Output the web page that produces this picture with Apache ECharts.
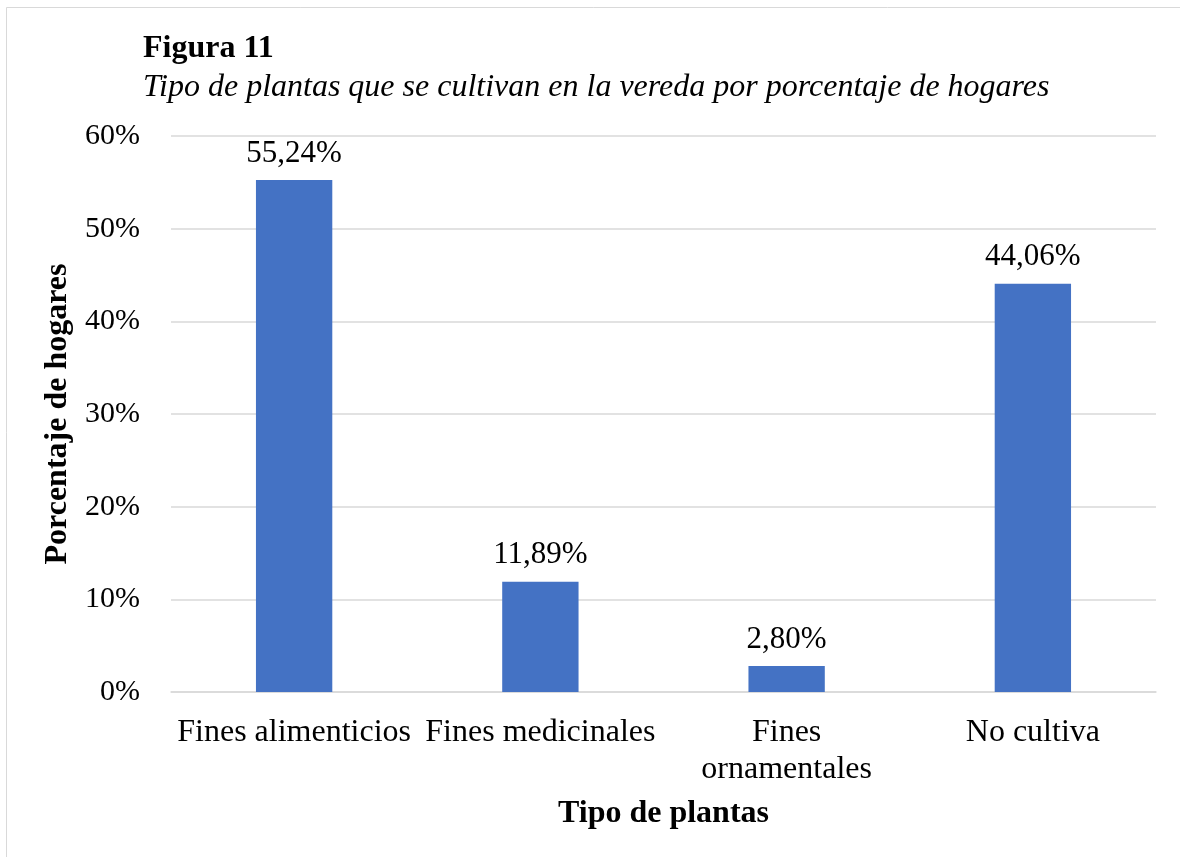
<!DOCTYPE html>
<html>
<head>
<meta charset="utf-8">
<script src="https://cdn.jsdelivr.net/npm/echarts@6/dist/echarts.min.js"></script>
<style>
  html, body { margin: 0; padding: 0; background: #fff; }
  #chart { width: 1180px; height: 857px; }
</style>
</head>
<body>
<div id="chart"></div>
<script>
// datos del gráfico
var categories = ['Fines alimenticios', 'Fines medicinales', 'Fines\nornamentales', 'No cultiva']
var values = [55.24, 11.89, 2.80, 44.06]
var valueLabels = ['55,24%', '11,89%', '2,80%', '44,06%']

var serif = '"Liberation Serif", "DejaVu Serif", serif'
var myChart = echarts.init(document.getElementById('chart'))

var option = {
  backgroundColor: '#fff',
  animation: false,
  graphic: [{
    type: 'rect',
    shape: { x: 6.5, y: 7.5, width: 1180, height: 860 },
    style: { fill: 'none', stroke: '#d9d9d9', lineWidth: 1 },
    silent: true
  }],
  title: {
    text: 'Figura 11',
    subtext: 'Tipo de plantas que se cultivan en la vereda por porcentaje de hogares',
    left: 138,
    top: 28,
    itemGap: 7,
    textStyle: { fontFamily: serif, fontWeight: 'bold', fontSize: 32, color: '#000' },
    subtextStyle: { fontFamily: serif, fontStyle: 'italic', fontSize: 32, color: '#000' }
  },
  grid: {
    left: 171,
    right: 24,
    top: 136,
    bottom: 165
  },
  xAxis: {
    type: 'category',
    data: categories,
    name: 'Tipo de plantas',
    nameLocation: 'middle',
    nameGap: 106,
    nameTextStyle: { fontFamily: serif, fontWeight: 'bold', fontSize: 32, color: '#000' },
    axisLine: { lineStyle: { color: '#d9d9d9', width: 1.5 } },
    axisTick: { show: false },
    axisLabel: {
      interval: 0,
      margin: 22,
      fontFamily: serif,
      fontSize: 32,
      color: '#000',
      lineHeight: 37
    }
  },
  yAxis: {
    type: 'value',
    min: 0,
    max: 60,
    interval: 10,
    name: 'Porcentaje de hogares',
    nameLocation: 'middle',
    nameGap: 93,
    nameTextStyle: { fontFamily: serif, fontWeight: 'bold', fontSize: 32, color: '#000' },
    axisLine: { show: false },
    axisTick: { show: false },
    splitLine: { lineStyle: { color: '#d9d9d9', width: 1.5 } },
    axisLabel: {
      formatter: '{value}%',
      margin: 31,
      fontFamily: serif,
      fontSize: 30,
      color: '#000'
    }
  },
  series: [{
    type: 'bar',
    data: values,
    barWidth: '31%',
    itemStyle: { color: '#4472C4' },
    label: {
      show: true,
      position: 'top',
      distance: 11,
      fontFamily: serif,
      fontSize: 31,
      color: '#000',
      formatter: function (p) { return valueLabels[p.dataIndex] }
    }
  }]
}
myChart.setOption(option)
</script>
</body>
</html>
